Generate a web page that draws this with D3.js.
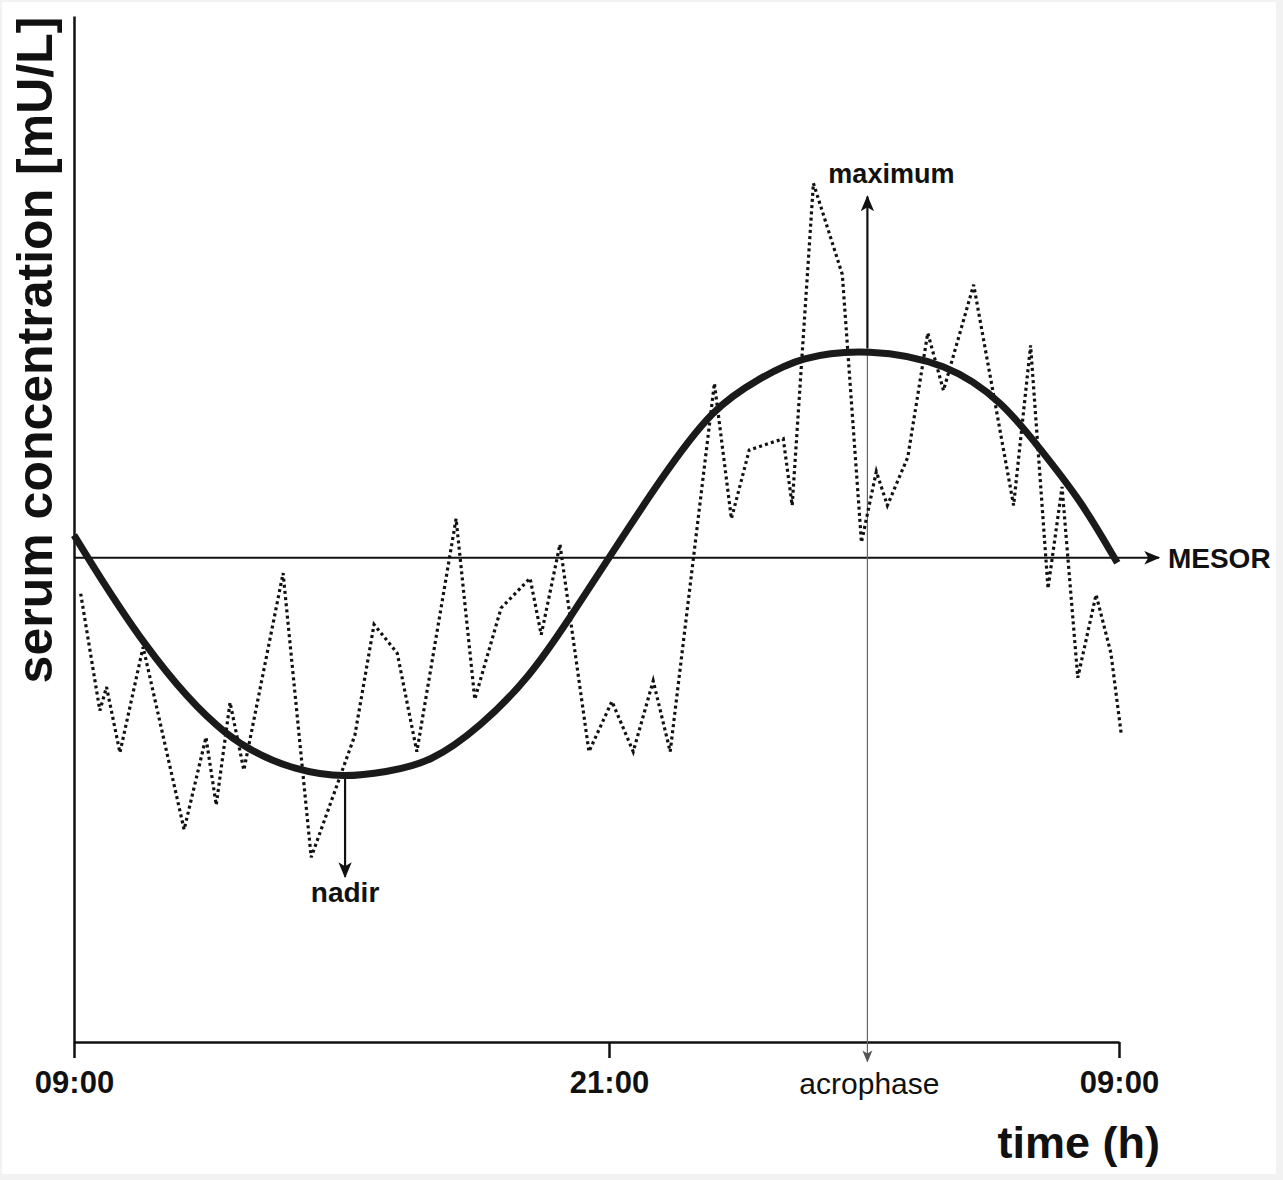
<!DOCTYPE html>
<html lang="en">
<head>
  <meta charset="UTF-8">
  <title>Serum concentration over time</title>
  <script src="https://d3js.org/d3.v7.min.js"></script>
  <style>
    body {
      margin: 0;
      font-family: "Liberation Sans", Arial, sans-serif;
    }
    text {
      fill: #111;
    }
  </style>
</head>
<body>
  <div id="chart"></div>

  <script>
    // hours after 09:00 for the raw (dotted) measurements
    const sampleHours = [0.15, 0.58, 0.73, 1.03, 1.55, 2.47, 2.96, 3.19, 3.50, 3.81,
                         4.69, 5.32, 6.30, 6.73, 7.25, 7.69, 8.57, 8.99, 9.58, 10.23,
                         10.48, 10.90, 11.55, 12.07, 12.57, 13.04, 13.44, 14.48, 14.88, 15.30,
                         16.10, 16.31, 16.81, 17.49, 17.94, 18.29, 18.55, 19.03, 19.50, 19.87,
                         20.58, 21.52, 21.92, 22.33, 22.66, 23.03, 23.46, 23.81, 24.05];
    // concentration (arbitrary units, no scale printed on the original)
    const sampleValues = [43.7, 32.3, 34.6, 28.2, 38.5, 20.7, 29.7, 23.1, 33.1, 26.5,
                          45.7, 18.0, 29.9, 40.7, 37.9, 28.3, 51.0, 33.4, 42.3, 45.2,
                          39.7, 48.5, 28.3, 33.2, 28.3, 35.2, 28.3, 64.2, 51.0, 57.7,
                          58.8, 52.3, 83.7, 74.8, 48.7, 55.6, 52.3, 57.0, 69.1, 63.5,
                          73.8, 52.3, 67.9, 44.2, 54.1, 35.5, 43.6, 37.9, 30.1];

    // fitted cosinor curve
    const fitHours  = [0.0, 1.55, 3.43, 5.07, 6.08, 6.98, 7.99, 9.11, 10.23, 11.13, 12.0,
                       13.2, 14.45, 15.56, 16.5, 18.08, 19.97, 21.29, 22.16, 23.1, 23.96];
    const fitValues = [49.4, 38.5, 29.1, 26.3, 25.8, 26.3, 27.2, 30.7, 35.6, 41.4, 47.2,
                       54.8, 61.9, 64.7, 66.8, 67.6, 66.2, 62.3, 57.7, 52.8, 46.7];

    const tickHours = [0, 12, 24];
    const tickLabels = ["09:00", "21:00", "09:00"];

    const mesor = 47.2;
    const nadirHour = 6.08, nadirValue = 25.8;
    const acrophaseHour = 18.08, maxValue = 67.6;

    const W = 1283, H = 1180;
    const x = d3.scaleLinear().domain([0, 12, 24]).range([74, 609, 1119]);
    const y = d3.scaleLinear().domain([0, 100]).range([1042, 16]);

    const svg = d3.select("#chart").append("svg")
                  .attr("width", W)
                  .attr("height", H);

    // faint frame like the scanned figure
    svg.append("rect").attr("width", W).attr("height", H).attr("fill", "#f2f2f2");
    svg.append("rect").attr("x", 2).attr("y", 2).attr("width", W - 9).attr("height", H - 8).attr("fill", "#fff");

    const defs = svg.append("defs");
    function marker(id, color, size) {
      defs.append("marker")
          .attr("id", id)
          .attr("viewBox", "0 -5 12 10")
          .attr("refX", 11)
          .attr("refY", 0)
          .attr("markerUnits", "userSpaceOnUse")
          .attr("markerWidth", size)
          .attr("markerHeight", size * 0.85)
          .attr("orient", "auto")
          .append("path")
          .attr("d", "M0,-5L12,0L0,5L3,0Z")
          .attr("fill", color);
    }
    marker("arrowBlack", "#111", 16);
    marker("arrowGrey", "#555", 12);

    // axes
    svg.append("g")
       .attr("transform", `translate(0,${y(0)})`)
       .call(d3.axisBottom(x).tickValues(tickHours).tickFormat((d, i) => tickLabels[i])
               .tickSize(16).tickSizeOuter(0).tickPadding(13))
       .call(g => g.selectAll("path, line").attr("stroke", "#111").attr("stroke-width", 2.5))
       .call(g => g.selectAll("text")
                   .attr("fill", "#111")
                   .style("font-family", "'Liberation Sans', Arial, sans-serif")
                   .style("font-size", "31px")
                   .style("font-weight", "bold"));

    svg.append("g")
       .attr("transform", `translate(${x(0)},0)`)
       .call(d3.axisLeft(y).tickValues([]).tickSizeOuter(0))
       .call(g => g.select("path").attr("stroke", "#111").attr("stroke-width", 2.5));

    // MESOR line
    svg.append("line")
       .attr("x1", x(0)).attr("x2", x(24.94))
       .attr("y1", y(mesor)).attr("y2", y(mesor))
       .attr("stroke", "#111").attr("stroke-width", 1.8)
       .attr("marker-end", "url(#arrowBlack)");

    svg.append("text")
       .attr("x", x(24.94) + 9)
       .attr("y", y(mesor) + 10)
       .style("font-size", "28px")
       .style("font-weight", "bold")
       .text("MESOR");

    // acrophase line (thin, grey) down to the time axis
    svg.append("line")
       .attr("x1", x(acrophaseHour)).attr("x2", x(acrophaseHour))
       .attr("y1", y(maxValue)).attr("y2", y(-1.9))
       .attr("stroke", "#666").attr("stroke-width", 1.2)
       .attr("marker-end", "url(#arrowGrey)");

    svg.append("text")
       .attr("x", x(acrophaseHour) + 2)
       .attr("y", 1094)
       .attr("text-anchor", "middle")
       .style("font-size", "30px")
       .text("acrophase");

    // raw measurements, dotted
    const line = d3.line().x(d => x(d[0])).y(d => y(d[1]));
    svg.append("path")
       .datum(sampleHours.map((h, i) => [h, sampleValues[i]]))
       .attr("d", line)
       .attr("fill", "none")
       .attr("stroke", "#111")
       .attr("stroke-width", 3.2)
       .attr("stroke-dasharray", "3,3.2");

    // maximum arrow
    svg.append("line")
       .attr("x1", x(acrophaseHour)).attr("x2", x(acrophaseHour))
       .attr("y1", y(maxValue)).attr("y2", y(82.4))
       .attr("stroke", "#111").attr("stroke-width", 2.2)
       .attr("marker-end", "url(#arrowBlack)");

    svg.append("text")
       .attr("x", x(acrophaseHour) + 24)
       .attr("y", 183)
       .attr("text-anchor", "middle")
       .style("font-size", "27px")
       .style("font-weight", "bold")
       .text("maximum");

    // nadir arrow
    svg.append("line")
       .attr("x1", x(nadirHour)).attr("x2", x(nadirHour))
       .attr("y1", y(nadirValue)).attr("y2", y(16.1))
       .attr("stroke", "#111").attr("stroke-width", 2.2)
       .attr("marker-end", "url(#arrowBlack)");

    svg.append("text")
       .attr("x", x(nadirHour))
       .attr("y", 902)
       .attr("text-anchor", "middle")
       .style("font-size", "28px")
       .style("font-weight", "bold")
       .text("nadir");

    // fitted cosinor curve
    const fitLine = d3.line().x(d => x(d[0])).y(d => y(d[1])).curve(d3.curveBasis);
    svg.append("path")
       .datum(fitHours.map((h, i) => [h, fitValues[i]]))
       .attr("d", fitLine)
       .attr("fill", "none")
       .attr("stroke", "#1a1a1a")
       .attr("stroke-width", 7);

    // axis titles
    svg.append("text")
       .attr("transform", `translate(52,350) rotate(-90)`)
       .attr("text-anchor", "middle")
       .style("font-size", "50px")
       .style("font-weight", "bold")
       .text("serum concentration [mU/L]");

    svg.append("text")
       .attr("x", 1160)
       .attr("y", 1158)
       .attr("text-anchor", "end")
       .style("font-size", "45px")
       .style("font-weight", "bold")
       .text("time (h)");
  </script>
</body>
</html>
